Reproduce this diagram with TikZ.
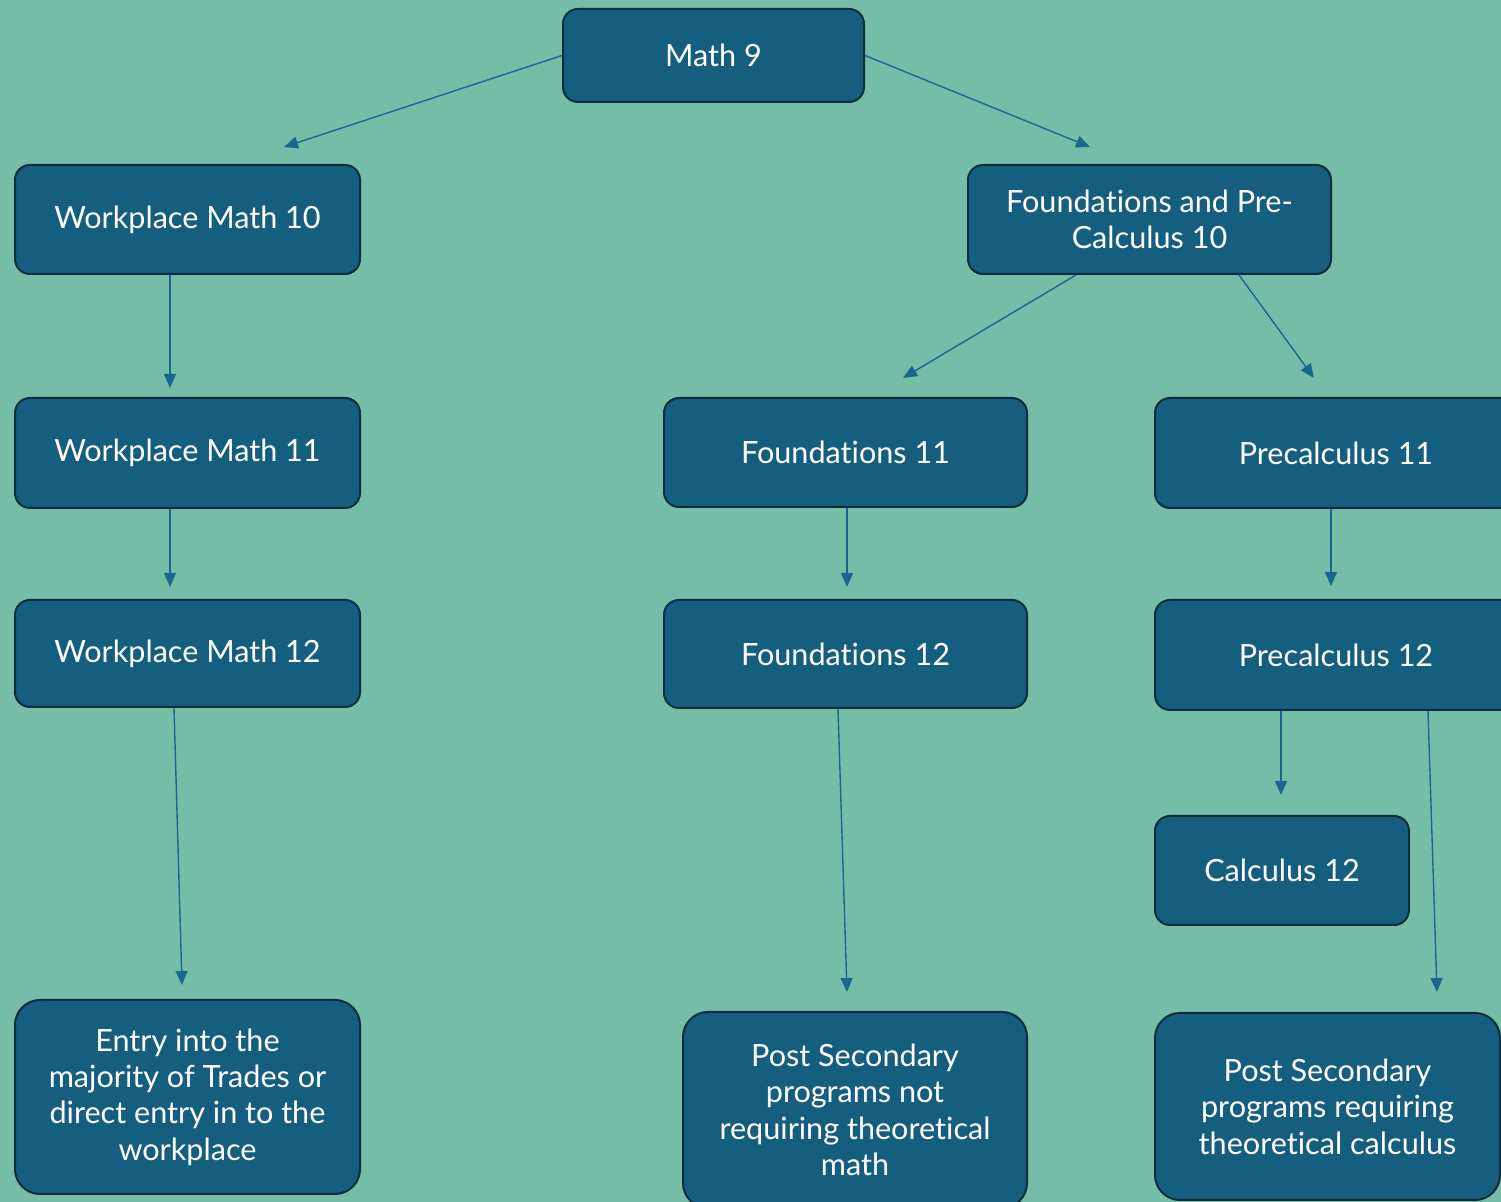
\documentclass[tikz,border=0pt]{standalone}
\usepackage{fontspec}
\setmainfont{Lato}[Ligatures=NoCommon]
\usetikzlibrary{arrows.meta}
\definecolor{bg}{HTML}{76BDA8}
\definecolor{boxfill}{HTML}{165E80}
\definecolor{boxline}{HTML}{0C2B3B}
\definecolor{arrowc}{HTML}{1B6690}
\tikzset{
  box/.style={draw=boxline, fill=boxfill, line width=1pt, rounded corners=7.5pt,
    text=white, font=\fontsize{15.3}{18.2}\selectfont, align=center, inner sep=0pt},
  bigbox/.style={box, rounded corners=12.5pt},
  conn/.style={draw=arrowc, line width=0.7pt, -{Triangle[length=7pt,width=6pt]}}
}
\begin{document}
\begin{tikzpicture}[x=0.5pt,y=-0.5pt]
\path[use as bounding box, fill=bg] (0,0) rectangle (1501,1202);
\clip (0,0) rectangle (1501,1202);
% nodes
\node[box, minimum width=150.5pt, minimum height=46.5pt] (m9) at (713.5,55.5) {Math 9};
\node[box, minimum width=172.5pt, minimum height=54.5pt] (wm10) at (187.5,219.5) {Workplace Math 10};
\node[box, minimum width=181.5pt, minimum height=54.5pt] (fpc10) at (1149.5,219.5) {Foundations and Pre-\\Calculus 10};
\node[box, minimum width=172.5pt, minimum height=55pt] (wm11) at (187.5,453) {Workplace Math 11};
\node[box, minimum width=181.5pt, minimum height=54.5pt] (f11) at (845.5,452.5) {Foundations 11};
\node[box, minimum width=181pt, minimum height=55pt] (p11) at (1336,453) {Precalculus 11};
\node[box, minimum width=172.5pt, minimum height=53.5pt] (wm12) at (187.5,653.5) {Workplace Math 12};
\node[box, minimum width=181.5pt, minimum height=54pt] (f12) at (845.5,654) {Foundations 12};
\node[box, minimum width=181pt, minimum height=55pt] (p12) at (1336,655) {Precalculus 12};
\node[box, minimum width=127pt, minimum height=54.5pt] (c12) at (1282,870.5) {Calculus 12};
\node[bigbox, minimum width=172.5pt, minimum height=97pt] (entry) at (187.5,1097) {Entry into the\\majority of Trades or\\direct entry in to the\\workplace};
\node[bigbox, minimum width=172pt, minimum height=98pt] (psn) at (855,1110) {Post Secondary\\programs not\\requiring theoretical\\math};
\node[bigbox, minimum width=172.5pt, minimum height=93.5pt] (psr) at (1327.5,1106.5) {Post Secondary\\programs requiring\\theoretical calculus};
% arrow tips
\coordinate (t1) at (284,147);
\coordinate (t2) at (1090,147);
\coordinate (t3) at (170,388);
\coordinate (t4) at (903,378);
\coordinate (t5) at (1314,378);
\coordinate (t6) at (170,587);
\coordinate (t7) at (847,587);
\coordinate (t8) at (1331,586);
\coordinate (t9) at (182,985);
\coordinate (t10) at (847,992);
\coordinate (t11) at (1281,795);
\coordinate (t12) at (1437,992);
% connectors
\draw[conn] (m9.west) -- (t1);
\draw[conn] (m9.east) -- (t2);
\draw[conn] ([xshift=-8.75pt]wm10.south) -- (t3);
\draw[conn] ([xshift=-36.75pt]fpc10.south) -- (t4);
\draw[conn] ([xshift=44.75pt]fpc10.south) -- (t5);
\draw[conn] ([xshift=-8.75pt]wm11.south) -- (t6);
\draw[conn] ([xshift=0.75pt]f11.south) -- (t7);
\draw[conn] ([xshift=-2.5pt]p11.south) -- (t8);
\draw[conn] ([xshift=-6.75pt]wm12.south) -- (t9);
\draw[conn] ([xshift=-3.75pt]f12.south) -- (t10);
\draw[conn] ([xshift=-27.5pt]p12.south) -- (t11);
\draw[conn] ([xshift=46pt]p12.south) -- (t12);
\end{tikzpicture}
\end{document}
